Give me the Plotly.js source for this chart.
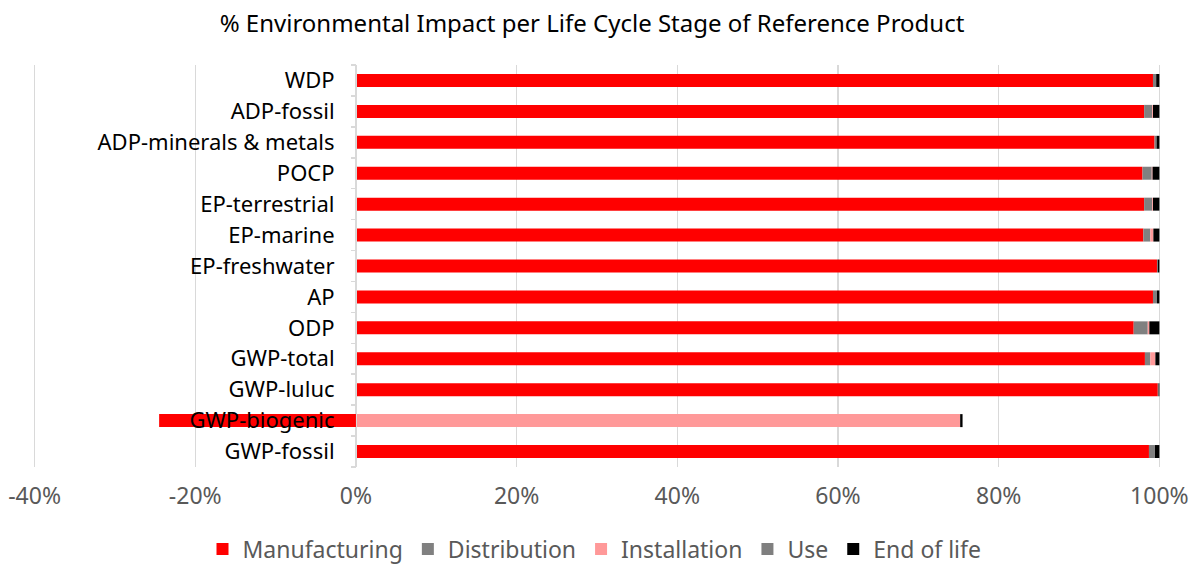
<!DOCTYPE html>
<html>
<head>
<meta charset="utf-8">
<script src="https://cdn.plot.ly/plotly-3.0.1.min.js"></script>
<style>html,body{margin:0;padding:0;background:#fff}#chart{width:1189px;height:566px}</style>
</head>
<body>
<div id="chart"></div>
<script>
const categories = ["GWP-fossil","GWP-biogenic","GWP-luluc","GWP-total","ODP","AP","EP-freshwater","EP-marine","EP-terrestrial","POCP","ADP-minerals & metals","ADP-fossil","WDP"];
const manufacturing = [98.7, -24.5, 99.8, 98.2, 96.8, 99.2, 99.7, 98.0, 98.1, 97.9, 99.4, 98.1, 99.2];
const distribution  = [0.75, 0,    0.1,  0.67, 1.75, 0.5,  0.1,  0.87, 1.0,  1.15, 0.25, 1.0,  0.4];
const installation  = [0,    75.2, 0,    0.63, 0.2,  0,    0,    0.38, 0.1,  0.1,  0,    0.1,  0];
const use           = [0,    0,    0,    0,    0,    0,    0,    0,    0,    0,    0,    0,    0];
const endOfLife     = [0.55, 0.3,  0.1,  0.5,  1.25, 0.3,  0.2,  0.75, 0.8,  0.85, 0.35, 0.8,  0.4];
const seriesNames = ["Manufacturing","Distribution","Installation","Use","End of life"];
const seriesColors = ["#ff0000","#808080","#ff9999","#7f7f7f","#000000"];
const xTicks = [-40,-20,0,20,40,60,80,100];

const seriesData = [manufacturing, distribution, installation, use, endOfLife];
const traces = seriesData.map((vals, i) => ({
  type: 'bar', orientation: 'h', name: seriesNames[i],
  x: vals, y: categories,
  marker: {color: seriesColors[i], line: {width: 0}},
  width: 0.42, hoverinfo: 'skip'
}));

const FONT = "Noto Sans, DejaVu Sans, sans-serif";
const layout = {
  width: 1189, height: 566,
  paper_bgcolor: '#fff', plot_bgcolor: '#fff',
  margin: {l: 33.4, r: 28.4, t: 64.5, b: 98.5},
  barmode: 'relative',
  font: {family: FONT, color: '#000'},
  title: {text: '% Environmental Impact per Life Cycle Stage of Reference Product',
          font: {family: FONT, size: 24, color: '#000'},
          x: 592/1189, xanchor: 'center', y: 1 - 24/566, yref: 'container', yanchor: 'middle'},
  xaxis: {
    range: [-40.2, 100.2], tickvals: xTicks, ticktext: xTicks.map(v => v + '%'),
    showgrid: true, gridcolor: '#d9d9d9', gridwidth: 1.5,
    zeroline: false, showline: false, ticks: '',
    tickfont: {family: FONT, size: 23, color: '#595959'},
    ticklabelstandoff: 13, ticklabeloverflow: 'allow', fixedrange: true
  },
  yaxis: {
    type: 'category', categoryorder: 'array', categoryarray: categories,
    anchor: 'free', position: 40.2/140.4,
    showline: true, linecolor: '#d9d9d9', linewidth: 1.5,
    ticks: 'outside', tickson: 'boundaries', ticklen: 5, tickcolor: '#d9d9d9', tickwidth: 1.5,
    showgrid: false, zeroline: false,
    tickfont: {family: FONT, size: 22, color: '#000'},
    ticklabelstandoff: 17, fixedrange: true
  },
  showlegend: true,
  legend: {orientation: 'h', x: 0.5, xref: 'container', xanchor: 'center',
           y: 17/566, yref: 'container', yanchor: 'middle',
           font: {family: FONT, size: 23, color: '#595959'}, traceorder: 'normal',
           itemclick: false, itemdoubleclick: false}
};

Plotly.newPlot('chart', traces, layout, {displayModeBar: false, staticPlot: true});
</script>
</body>
</html>
